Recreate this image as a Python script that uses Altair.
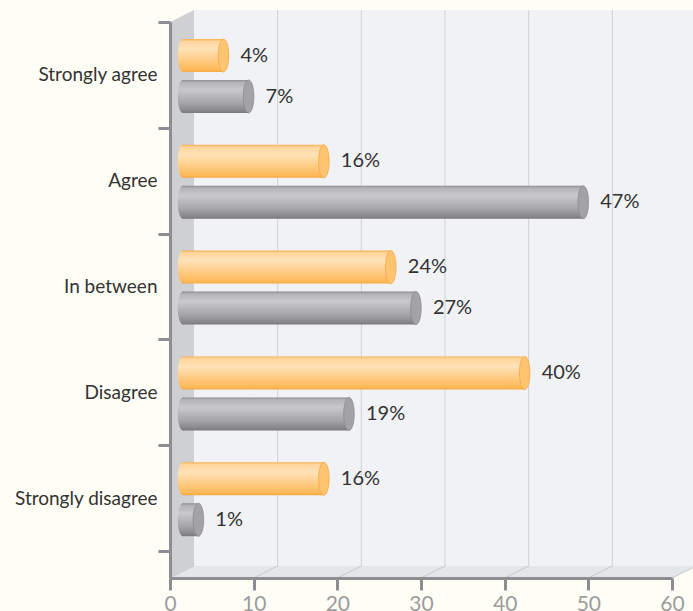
import altair as alt
import pandas as pd

# ---- data -------------------------------------------------------------
categories = ["Strongly agree", "Agree", "In between", "Disagree", "Strongly disagree"]
orange_values = [4, 16, 24, 40, 16]
grey_values = [7, 47, 27, 19, 1]
x_ticks = [0, 10, 20, 30, 40, 50, 60]
back_grid = [10, 20, 30, 40, 50]

# ---- layout (pixels) --------------------------------------------------
PLOT_W, PLOT_H = 523, 556      # drawing area
AXIS_LEN = 502                 # front value axis length (0..60)
DX, DY = 24, 12                # depth offset of the back wall
BAR_H = 33
CAP_SIZE = BAR_H * BAR_H
ELLIPSE = "M0,-1A0.32,1,0,1,1,0,1A0.32,1,0,1,1,0,-1Z"
AX = "#8e8e92"
FONT = "Lato"

xscale = alt.Scale(domain=[0, 60], range=[0, AXIS_LEN], nice=False, zero=False)
xaxis = alt.Axis(values=x_ticks, title=None, grid=False, tickSize=12, tickWidth=3,
                 tickColor=AX, domainColor=AX, domainWidth=3, labelFont=FONT,
                 labelFontSize=21, labelColor="#9c9c9c", labelPadding=3,
                 labelFlush=False, zindex=1)
yscale = alt.Scale(domain=categories, paddingInner=0, paddingOuter=0.1275, align=0)
yaxis = alt.Axis(title=None, tickBand="extent", grid=False, tickSize=12, tickWidth=3,
                 tickColor=AX, domainColor=AX, domainWidth=3, labelFont=FONT,
                 labelFontSize=19, labelColor="#333333", labelPadding=1,
                 labelLimit=300, zindex=1)


def X(field):
    return alt.X(field, type="quantitative", scale=xscale, axis=xaxis)


Y = alt.Y("category:N", sort=categories, scale=yscale, axis=yaxis)


def gradient(stops):
    return {"gradient": "linear", "x1": 0, "y1": 0, "x2": 0, "y2": 1,
            "stops": [{"offset": o, "color": c} for o, c in stops]}


orange_grad = gradient([(0, "#f7b050"), (0.07, "#ffd59c"), (0.3, "#ffe2b8"),
                        (0.7, "#fec87c"), (0.93, "#fdb858"), (1, "#f3a642")])
grey_grad = gradient([(0, "#8c8c91"), (0.07, "#b4b4b8"), (0.3, "#c9c9cd"),
                      (0.7, "#a4a4a9"), (0.93, "#86868b"), (1, "#77777c")])

# ---- 3D frame: back wall, floor, side wall ---------------------------
one = pd.DataFrame({"a": [0]})
back = alt.Chart(one).mark_rect(fill="#f1f2f5").encode(
    x=alt.value(DX), x2=alt.value(PLOT_W + DX),
    y=alt.value(-DY), y2=alt.value(PLOT_H - DY))

grid = alt.Chart(pd.DataFrame({"tick": back_grid})).mark_rule(
    color="#d0d1d5", strokeWidth=1, xOffset=DX).encode(
    x=X("tick"), y=alt.value(-DY), y2=alt.value(PLOT_H - DY))

floor = alt.Chart(pd.DataFrame({
    "fy": [PLOT_H - DY, PLOT_H],
    "fx": [DX, 0],
    "fx2": [AXIS_LEN + DX, AXIS_LEN],
})).mark_area(orient="horizontal", fill="#e5e6e9").encode(
    y=alt.Y("fy:Q", scale=None, axis=None),
    x=alt.X("fx:Q", scale=None, axis=None),
    x2="fx2:Q")

floor_lines = alt.Chart(pd.DataFrame({"tick": x_ticks})).mark_rule(
    color="#c6c7cb", strokeWidth=1, x2Offset=DX).encode(
    x=X("tick"), x2=alt.X2("tick:Q"),
    y=alt.value(PLOT_H), y2=alt.value(PLOT_H - DY))

wall = alt.Chart(pd.DataFrame({
    "px": [0, DX],
    "py": [0, -DY],
    "py2": [PLOT_H, PLOT_H - DY],
})).mark_area(orient="vertical", fill="#cfd0d2").encode(
    x=alt.X("px:Q", scale=None, axis=None),
    y=alt.Y("py:Q", scale=None, axis=None),
    y2="py2:Q")


# ---- cylinders --------------------------------------------------------
def cylinders(values, grad, cap_fill, cap_stroke, y_off):
    df = pd.DataFrame({"category": categories, "value": values,
                       "label": [f"{v}%" for v in values]})
    base = alt.Chart(df)
    body = base.mark_bar(fill=grad, height=BAR_H, yOffset=y_off,
                         xOffset=20, x2Offset=13).encode(
        x=X("value"), x2=alt.X2(datum=0), y=Y)
    left = base.mark_point(shape=ELLIPSE, size=CAP_SIZE, filled=True, fill=grad,
                           strokeWidth=0, opacity=1, xOffset=13, yOffset=y_off).encode(
        x=alt.X(datum=0, type="quantitative", scale=xscale, axis=xaxis), y=Y)
    cap = base.mark_point(shape=ELLIPSE, size=CAP_SIZE, filled=True, fill=cap_fill,
                          stroke=cap_stroke, strokeWidth=0.8, opacity=1,
                          xOffset=20, yOffset=y_off).encode(x=X("value"), y=Y)
    text = base.mark_text(align="left", baseline="middle", dx=37, dy=y_off,
                          font=FONT, fontSize=20, color="#333333").encode(
        x=X("value"), y=Y, text="label:N")
    return [body, left, cap, text]


layers = [back, grid, floor, floor_lines, wall]
layers += cylinders(orange_values, orange_grad, "#fec470", "#f4aa44", -19.4)
layers += cylinders(grey_values, grey_grad, "#a2a2a7", "#8b8b90", 21.6)

chart = alt.layer(*layers).properties(
    width=PLOT_W, height=PLOT_H,
    autosize=alt.AutoSizeParams(type="none"),
    padding={"left": 170, "top": 22, "right": 0, "bottom": 33},
).configure(background="#fffef6").configure_view(stroke=None)

chart.save("out.html", embed_options={"renderer": "svg", "actions": False})
